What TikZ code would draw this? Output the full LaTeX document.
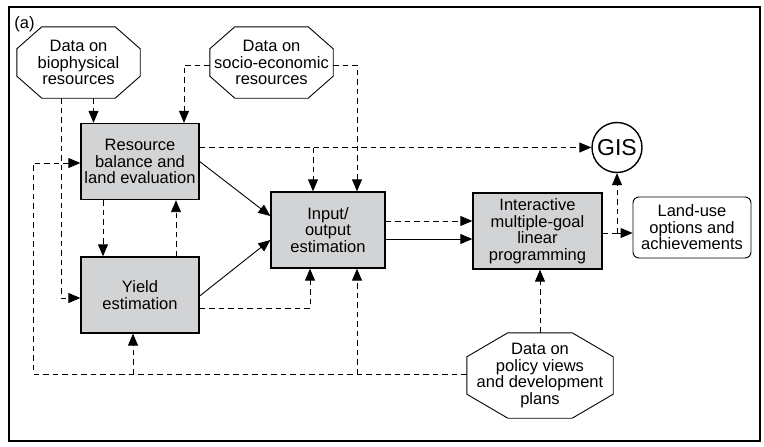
\documentclass[tikz,border=0pt]{standalone}
\usepackage{fontspec}
\setmainfont{Liberation Sans}
\usetikzlibrary{arrows.meta}
\definecolor{boxgray}{RGB}{210,211,213}
\tikzset{
  proc/.style={draw, line width=1.3pt, fill=boxgray, align=center, minimum height=76pt},
  datasrc/.style={align=center, inner sep=0pt},
  flow/.style={-{Triangle[length=12pt,width=10pt]}, line width=0.9pt},
  dflow/.style={flow, dash pattern=on 5.5pt off 4pt},
}
% octagon round a node: name, chamfer x, chamfer y
\newcommand{\octagon}[3]{%
  \draw[line width=0.9pt] ([xshift=#2]#1.north west) -- ([xshift=-#2]#1.north east)
    -- ([yshift=-#3]#1.north east) -- ([yshift=#3]#1.south east)
    -- ([xshift=-#2]#1.south east) -- ([xshift=#2]#1.south west)
    -- ([yshift=#3]#1.south west) -- ([yshift=-#3]#1.north west) -- cycle;}
\begin{document}
\begin{tikzpicture}[x=1pt, y=-1pt, font=\fontsize{16.5}{16.5}\selectfont]
    \useasboundingbox (0,0) rectangle (764,447);
    \draw[line width=1.3pt] (9,7) rectangle (760,441);
    \node (lbl) at (24.5,24) {(a)};
    % data sources
    \node[datasrc, minimum width=123pt, minimum height=71pt] (bio) at (78.5,62.5) {Data on\\biophysical\\resources};
    \octagon{bio}{25pt}{22pt}
    \node[datasrc, minimum width=123pt, minimum height=71pt] (socio) at (271.5,62.5) {Data on\\socio-economic\\resources};
    \octagon{socio}{25pt}{22pt}
    \node[datasrc, minimum width=146pt, minimum height=85pt] (policy) at (540,375.5) {Data on\\policy views\\and development\\plans};
    \octagon{policy}{41pt}{24pt}
    % processes
    \node[proc, minimum width=118pt] (rbal) at (140,161.5) {Resource\\balance and\\land evaluation};
    \node[proc, minimum width=118pt] (yield) at (140,295) {Yield\\estimation};
    \node[proc, minimum width=114pt] (io) at (328,230) {Input/\\output\\estimation};
    \node[proc, minimum width=129pt] (milp) at (537.5,231) {Interactive\\multiple-goal\\linear\\programming};
    \node[draw, circle, line width=1.4pt, minimum size=50pt, inner sep=0pt, font=\fontsize{23}{23}\selectfont] (gis) at (617,147.5) {GIS};
    \node[draw, rounded corners=6pt, line width=0.9pt, minimum width=118pt, minimum height=61pt, align=center] (out) at (692,227.5) {Land-use\\options and\\achievements};
    % connectors
    \draw[dflow] ([xshift=15pt]bio.south) -- ([xshift=15pt]bio.south |- rbal.north);
    \draw[dflow] ([xshift=-17.5pt]bio.south) |- ([yshift=-3pt]yield.west);
    \draw[dflow] ([yshift=-2.5pt]socio.west) -| ([xshift=44pt]rbal.north);
    \draw[dflow] ([yshift=-2.5pt]socio.east) -| ([xshift=29pt]io.north);
    \draw[dflow] (rbal.east |- gis.west) -- (gis.west);
    \draw[dflow] ([xshift=-15pt]io.north |- gis.west) -- ([xshift=-15pt]io.north);
    \draw[flow] (rbal.east) -- ([yshift=14pt]io.west);
    \draw[flow] ([yshift=-1pt]yield.east) -- ([yshift=-10pt]io.west);
    \draw[dflow] ([xshift=-37pt]rbal.south) -- ([xshift=-37pt]yield.north);
    \draw[dflow] ([xshift=36pt]yield.north) -- ([xshift=36pt]rbal.south);
    \draw[dflow] ([yshift=-13pt]yield.east) -| ([xshift=-18pt]io.south);
    \draw[dflow] ([yshift=9pt]io.east) -- ([yshift=9pt]io.east -| milp.west);
    \draw[flow] ([yshift=-9pt]io.east) -- ([yshift=-9pt]io.east -| milp.west);
    \coordinate (split) at ([yshift=-2pt]milp.east -| gis.south);
    \draw[dflow, -] ([yshift=-2pt]milp.east) -- (split);
    \draw[dflow] (split) -- (gis.south);
    \draw[dflow] (split) -- (split -| out.west);
    \draw[dflow] (policy.north) -- (policy.north |- milp.south);
    \coordinate (feed) at ([yshift=1.5pt]policy.west);
    \draw[dflow] (feed) -| ([xshift=-47pt,yshift=-1.5pt]rbal.west) -- ([yshift=-1.5pt]rbal.west);
    \coordinate (yb) at ([xshift=-7pt]yield.south);
    \draw[dflow] (feed -| yb) -- (yb);
    \coordinate (ib) at ([xshift=29pt]io.south);
    \draw[dflow] (feed -| ib) -- (ib);
\end{tikzpicture}
\end{document}
